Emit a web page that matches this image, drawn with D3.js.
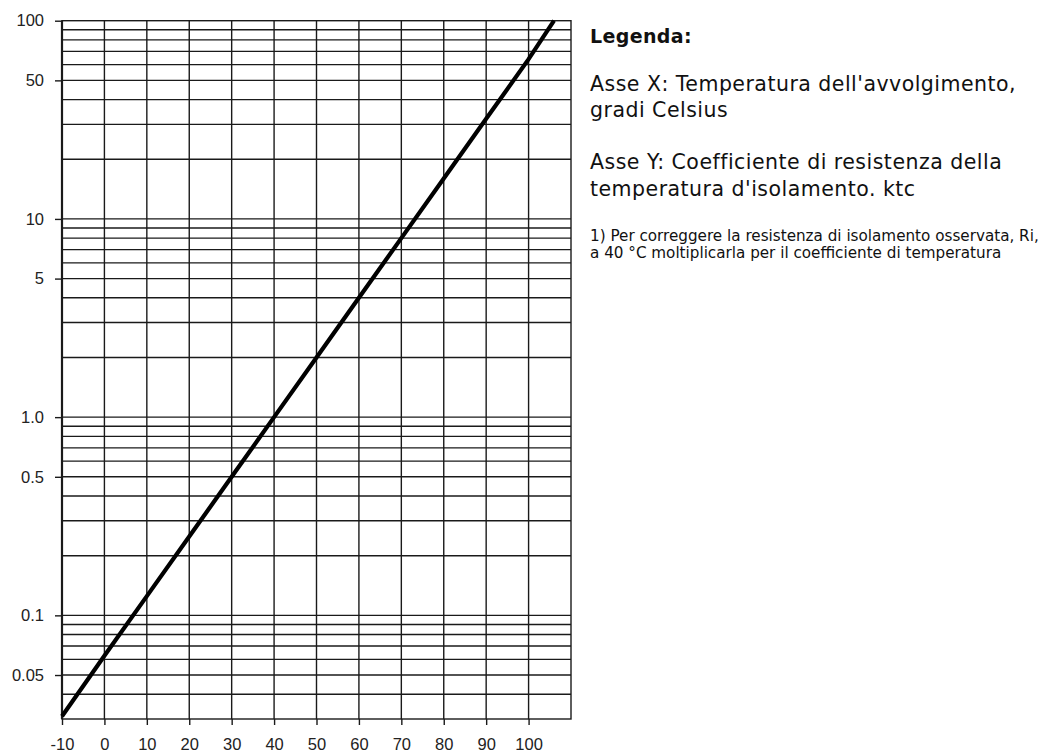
<!DOCTYPE html>
<html>
<head>
<meta charset="utf-8">
<script src="https://cdn.jsdelivr.net/npm/d3@7"></script>
<style>
  body { margin: 0; background: #fff; }
  .tick-label { font-family: "Liberation Sans", Arial, sans-serif; font-size: 16.5px; fill: #222; }
  .legend { font-family: "DejaVu Sans", sans-serif; fill: #111; }
</style>
</head>
<body>
<svg id="chart" width="1049" height="753"></svg>
<script>
// temperature (°C) vs insulation resistance temperature coefficient ktc
var temps = [-10, 0, 10, 20, 30, 40, 50, 60, 70, 80, 90, 100, 106];
var ktc = [0.031, 0.0625, 0.125, 0.25, 0.5, 1, 2, 4, 8, 16, 32, 64, 100];

var xTicks = [-10, 0, 10, 20, 30, 40, 50, 60, 70, 80, 90, 100];
var xGrid = [0, 10, 20, 30, 40, 50, 60, 70, 80, 90, 100];
var yTicks = [100, 50, 10, 5, 1, 0.5, 0.1, 0.05];
var yTickLabels = ["100", "50", "10", "5", "1.0", "0.5", "0.1", "0.05"];
var yGrid = [90, 80, 70, 60, 50, 40, 30, 20,
             10, 9, 8, 7, 6, 5, 4, 3, 2,
             1, 0.9, 0.8, 0.7, 0.6, 0.5, 0.4, 0.3, 0.2,
             0.1, 0.09, 0.08, 0.07, 0.06, 0.05, 0.04];

var legendTitle = "Legenda:";
var legendLines = [
  ["Asse X: Temperatura dell'avvolgimento,", "gradi Celsius"],
  ["Asse Y: Coefficiente di resistenza della", "temperatura d'isolamento. ktc"]
];
var noteLines = [
  "1) Per correggere la resistenza di isolamento osservata, Ri,",
  "a 40 °C moltiplicarla per il coefficiente di temperatura"
];

var svg = d3.select("#chart");
// plot box (named so it doesn't clash with window.top)
var plotL = 62, plotR = 571, plotT = 20.7, plotB = 719;

var x = d3.scaleLinear().domain([-10, 110]).range([plotL, plotR]);
var y = d3.scaleLog().domain([0.03, 100]).range([plotB, plotT]);

var ink = "#1a1a1a";

// horizontal grid
svg.append("g").selectAll("line")
  .data(yGrid)
  .join("line")
    .attr("x1", plotL).attr("x2", plotR)
    .attr("y1", d => y(d)).attr("y2", d => y(d))
    .attr("stroke", ink).attr("stroke-width", 1.4);

// vertical grid
svg.append("g").selectAll("line")
  .data(xGrid)
  .join("line")
    .attr("x1", d => x(d)).attr("x2", d => x(d))
    .attr("y1", plotT).attr("y2", plotB)
    .attr("stroke", ink).attr("stroke-width", 1.4);

// frame
svg.append("rect")
  .attr("x", plotL).attr("y", plotT)
  .attr("width", plotR - plotL).attr("height", plotB - plotT)
  .attr("fill", "none").attr("stroke", ink).attr("stroke-width", 1.4);
svg.append("line")
  .attr("x1", plotL).attr("x2", plotL).attr("y1", plotT).attr("y2", plotB)
  .attr("stroke", ink).attr("stroke-width", 2.2);

// axes
var yAxis = d3.axisLeft(y).tickValues(yTicks)
  .tickFormat((d, i) => yTickLabels[i]).tickSize(7).tickPadding(11);
var gy = svg.append("g").attr("transform", `translate(${plotL},0)`).call(yAxis);
gy.select(".domain").remove();
gy.selectAll(".tick line").attr("stroke", ink).attr("stroke-width", 1.4);
gy.selectAll(".tick text").attr("class", "tick-label");
gy.attr("font-size", null).attr("font-family", null);

var xAxis = d3.axisBottom(x).tickValues(xTicks)
  .tickFormat(d => String(d)).tickSize(6).tickPadding(13);
var gx = svg.append("g").attr("transform", `translate(0,${plotB})`).call(xAxis);
gx.select(".domain").remove();
gx.selectAll(".tick line").attr("stroke", ink).attr("stroke-width", 1.4);
gx.selectAll(".tick text").attr("class", "tick-label");
gx.attr("font-size", null).attr("font-family", null);

// ktc curve
var line = d3.line().x((d, i) => x(temps[i])).y(d => y(d));
svg.append("path")
  .datum(ktc)
  .attr("d", line)
  .attr("fill", "none")
  .attr("stroke", "#000")
  .attr("stroke-width", 4.2);

// legend
var lg = svg.append("g").attr("class", "legend").attr("transform", "translate(590,0)");
lg.append("text").attr("y", 43).attr("font-size", 19)
  .attr("letter-spacing", 0.35).attr("font-weight", "bold").text(legendTitle);
var blockY = [90.7, 169.3];
legendLines.forEach((lines, b) => {
  lines.forEach((t, i) => {
    lg.append("text").attr("y", blockY[b] + i * 26.5)
      .attr("font-size", 20.5).attr("letter-spacing", 0.48).text(t);
  });
});
noteLines.forEach((t, i) => {
  lg.append("text").attr("y", 241 + i * 17).attr("font-size", 15.2).text(t);
});
</script>
</body>
</html>
